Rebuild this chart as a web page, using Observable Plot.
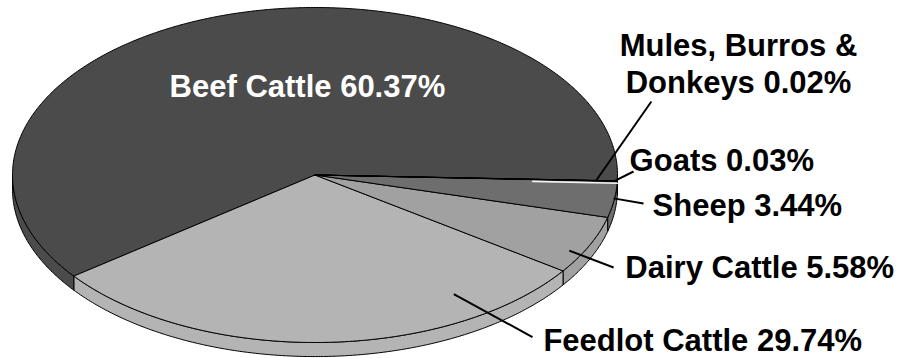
<!DOCTYPE html>
<html>
<head>
<meta charset="utf-8">
<script src="https://cdn.jsdelivr.net/npm/d3@7"></script>
<script src="https://cdn.jsdelivr.net/npm/@observablehq/plot@0.6"></script>
<style>
  body { margin: 0; background: #fff; }
  #chart { width: 898px; height: 358px; }
</style>
</head>
<body>
<div id="chart"></div>
<script>
// Livestock share by class, in percent (slices run clockwise from 3 o'clock)
const categories = ["Mules, Burros & Donkeys", "Goats", "Sheep", "Dairy Cattle", "Feedlot Cattle", "Beef Cattle"];
const shares = [0.02, 0.03, 3.44, 5.58, 29.74, 60.37];
const labels = ["Mules, Burros &\nDonkeys 0.02%", "Goats 0.03%", "Sheep 3.44%", "Dairy Cattle 5.58%", "Feedlot Cattle 29.74%", "Beef Cattle 60.37%"];
const fills = ["#000000", "#f2f2f2", "#6e6e6e", "#a1a1a1", "#b4b4b4", "#4b4b4b"];

// Label layout in pie units (x: -1..1 across the disc, y: -1..1 top to bottom)
const labelPos = [
  {x: 1.400, y: -0.487, anchor: "middle"},
  {x: 1.040, y: -0.021, anchor: "start"},
  {x: 1.116, y: 0.242, anchor: "start"},
  {x: 1.026, y: 0.612, anchor: "start"},
  {x: 0.755, y: 1.052, anchor: "start"},
  {x: -0.025, y: -0.463, anchor: "middle"}
];
// Leader lines: where they meet the slice (fraction across the slice, radius) and where they end
const leaders = [
  {t: 0.5, r: 0.93, x: 1.112, y: -0.439},
  {t: 0.5, r: 0.99, x: 1.053, y: -0.021},
  {t: 0.47, r: 0.997, x: 1.086, y: 0.170},
  {t: 0.67, r: 0.954, x: 0.987, y: 0.552},
  {t: 0.206, r: 0.846, x: 0.719, y: 0.968},
  null
];

const deg = Math.PI / 180;
const START = 2 * deg;     // first slice edge, clockwise from 3 o'clock
const DEPTH = 0.084;       // thickness of the disc wall, in y units
const total = d3.sum(shares);

let acc = START;
const slices = shares.map((s, i) => {
  const a0 = acc;
  const a1 = acc + (s / total) * 2 * Math.PI;
  acc = a1;
  return {i, a0, a1};
});

function arc(a0, a1, dy = 0, r = 1) {
  const n = Math.max(2, Math.ceil((a1 - a0) / (0.5 * deg)));
  return d3.range(n + 1).map(k => {
    const a = a0 + (a1 - a0) * k / n;
    return {x: r * Math.cos(a), y: r * Math.sin(a) + dy};
  });
}

// Front wall pieces (only the near half of the disc is visible)
const walls = [];
for (const s of slices) {
  for (const [lo, hi] of [[0, Math.PI], [2 * Math.PI, 3 * Math.PI]]) {
    const a = Math.max(s.a0, lo), b = Math.min(s.a1, hi);
    if (b > a) {
      const top = arc(a, b);
      const bottom = arc(a, b, DEPTH).reverse();
      walls.push({i: s.i, pts: [...top, ...bottom, top[0]]});
    }
  }
}

// Top faces
const faces = slices.map(s => ({i: s.i, pts: [{x: 0, y: 0}, ...arc(s.a0, s.a1), {x: 0, y: 0}]}));

const polyMark = d => Plot.line(d.pts, {
  x: "x", y: "y", fill: fills[d.i], stroke: "#000", strokeWidth: 1, strokeLinejoin: "round"
});

// Draw order: walls, then the large faces, then the thin slivers on top
const faceOrder = [5, 4, 3, 2, 1, 0];

const goats = slices[1];
const goatsEdge = [0.72, 1].map(r => ({x: r * Math.cos(goats.a1), y: r * Math.sin(goats.a1)}));

const leaderLinks = leaders.map((l, i) => {
  if (!l) return null;
  const s = slices[i];
  const a = s.a0 + (s.a1 - s.a0) * l.t;
  return {x1: l.r * Math.cos(a), y1: l.r * Math.sin(a), x2: l.x, y2: l.y};
}).filter(Boolean);

const font = "'Liberation Sans', Arial, Helvetica, sans-serif";

const chart = Plot.plot({
  width: 898,
  height: 358,
  margin: 0,
  x: {domain: [-1, 1], range: [12, 617], axis: null},
  y: {domain: [-1, 1], range: [7, 342], axis: null},
  style: {background: "#fff", overflow: "visible"},
  marks: [
    ...walls.map(polyMark),
    ...faceOrder.map(i => polyMark(faces[i])),
    Plot.line(goatsEdge, {x: "x", y: "y", stroke: fills[1], strokeWidth: 1.6, dy: 1.8}),
    Plot.link(leaderLinks, {x1: "x1", y1: "y1", x2: "x2", y2: "y2", stroke: "#000", strokeWidth: 2}),
    ...labels.map((t, i) => Plot.text([t], {
      x: () => labelPos[i].x,
      y: () => labelPos[i].y,
      text: d => d,
      textAnchor: labelPos[i].anchor,
      lineAnchor: "bottom",
      lineHeight: 1.2,
      fontSize: 31,
      fontWeight: "bold",
      fontFamily: font,
      fill: i === 5 ? "#fff" : "#000"
    }))
  ]
});

document.getElementById("chart").appendChild(chart);
</script>
</body>
</html>
